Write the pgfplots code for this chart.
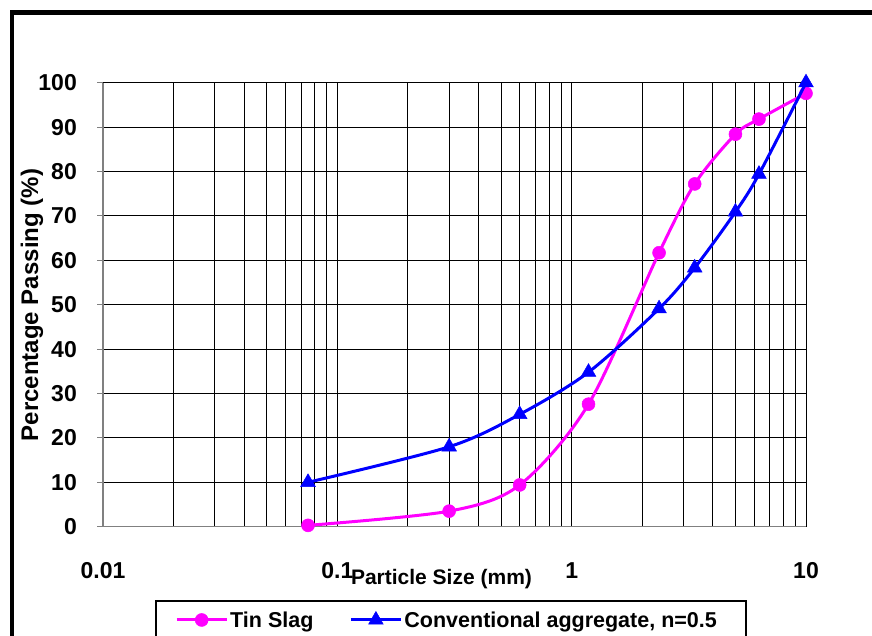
\documentclass[border=0pt]{standalone}
\usepackage{pgfplots}
\pgfplotsset{compat=1.18}
\usepackage{pgfplotstable}
\usepackage{fontspec}
\setmainfont{Liberation Sans}
\definecolor{tinmag}{RGB}{255,0,255}
\definecolor{convblue}{RGB}{0,0,255}
\definecolor{spine}{RGB}{128,128,128}
\pgfplotstableread{
x tin conv
0.075 0.3 10
0.3 3.5 18
0.6 9.4 25.3
1.18 27.6 34.8
2.36 61.7 49.1
3.35 77.2 58.3
5 88.4 70.9
6.3 91.8 79.4
10 97.6 100
}\gradation
\begin{document}
\begin{tikzpicture}[x=1pt,y=1pt]
\useasboundingbox (0,0) rectangle (872,636);
\clip (0,0) rectangle (872,636);
\draw[line width=4.5pt] (12,-20) -- (12,623.5) -- (900,623.5);
\draw[line width=2pt] (156,35) rectangle (746,-30);
\begin{axis}[
  at={(103pt,109.3pt)}, anchor=south west,
  scale only axis, width=703pt, height=444pt,
  xmode=log, xmin=0.01, xmax=10, ymin=0, ymax=100,
  xtick={0.01,0.1,1,10}, xticklabels={\textbf{0.01},\textbf{0.1},\textbf{1},\textbf{10}},
  ytick={0,10,...,100},
  /pgf/number format/assume math mode=true,
  axis x line*=bottom, axis y line*=left,
  axis line style={spine, line width=1.5pt},
  xmajorgrids, xminorgrids, ymajorgrids,
  major grid style={black, line width=0.8pt},
  minor grid style={black, line width=0.8pt},
  tick align=outside,
  major tick length=6pt, minor tick length=0pt,
  xtick style={draw=none},
  ytick style={spine, line width=1pt},
  ticklabel style={font=\bfseries\fontsize{23}{26}\selectfont},
  yticklabel style={anchor=east, inner sep=0pt, xshift=-20pt},
  xticklabel style={anchor=center, inner sep=0pt, yshift=-38pt},
  xlabel={Particle Size (mm)}, ylabel={Percentage Passing (\%)},
  every axis x label/.style={at={(axis description cs:0.4815,-0.1178)}, anchor=center, font=\bfseries\fontsize{21}{24}\selectfont},
  every axis y label/.style={at={(axis description cs:-0.101,0.4993)}, rotate=90, anchor=center, font=\bfseries\fontsize{24}{26}\selectfont},
  clip mode=individual,
  legend columns=2,
  legend style={at={(axis description cs:0.1024,-0.2101)}, anchor=west, draw=none, fill=none, inner sep=0pt,
    font=\bfseries\fontsize{21.5}{24}\selectfont, nodes={inner sep=2pt},
    /tikz/every even column/.append style={column sep=34pt}},
  legend image code/.code={\draw[mark repeat=2, mark phase=2, #1] plot coordinates {(0pt,0pt) (25pt,0pt) (50pt,0pt)};},
]
\addplot[tinmag, line width=3pt, smooth, mark=*, mark size=6.5pt, mark options={solid, fill=tinmag, draw=tinmag, line width=0.5pt}] table[x=x,y=tin]{\gradation};
\addlegendentry{Tin Slag}
\addplot[convblue, line width=3pt, smooth, mark=triangle*, mark size=8.5pt, mark options={solid, fill=convblue, draw=convblue, line width=0.5pt}] table[x=x,y=conv]{\gradation};
\addlegendentry{Conventional aggregate, n=0.5}
\end{axis}
\end{tikzpicture}
\end{document}
